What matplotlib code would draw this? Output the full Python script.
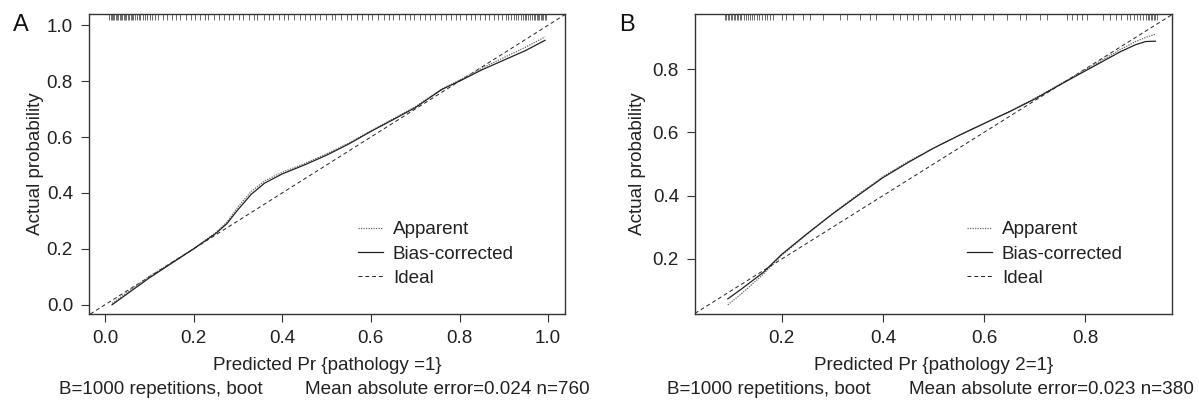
import matplotlib
matplotlib.use("Agg")
import matplotlib.pyplot as plt

plt.rcParams['font.family'] = ['Liberation Sans', 'DejaVu Sans']

# ---------------- Panel A data ----------------
a_x = [0.016, 0.10, 0.20, 0.25, 0.275, 0.30, 0.33, 0.36, 0.40, 0.45, 0.50,
       0.55, 0.60, 0.65, 0.70, 0.76, 0.80, 0.85, 0.90, 0.95, 0.993]
a_bias = [0.000, 0.096, 0.200, 0.255, 0.290, 0.340, 0.395, 0.435, 0.468, 0.500, 0.535,
          0.575, 0.620, 0.662, 0.705, 0.770, 0.800, 0.840, 0.875, 0.910, 0.946]
a_app = [0.005, 0.102, 0.200, 0.258, 0.295, 0.350, 0.405, 0.443, 0.474, 0.505, 0.540,
         0.578, 0.622, 0.665, 0.708, 0.772, 0.804, 0.846, 0.884, 0.922, 0.958]
a_rug = [0.010, 0.013, 0.016, 0.019, 0.021, 0.024, 0.027, 0.030, 0.033, 0.036,
         0.039, 0.042, 0.045, 0.048, 0.051, 0.054, 0.058, 0.061, 0.064, 0.068,
         0.072, 0.076, 0.080, 0.085, 0.090, 0.095, 0.101, 0.107, 0.113, 0.120,
         0.131, 0.140, 0.152, 0.161, 0.170, 0.182, 0.194, 0.203, 0.215, 0.226,
         0.233, 0.246, 0.258, 0.268, 0.281, 0.290, 0.302, 0.311, 0.325, 0.337,
         0.344, 0.358, 0.371, 0.380, 0.392, 0.405, 0.414, 0.427, 0.441, 0.452,
         0.463, 0.475, 0.486, 0.498, 0.512, 0.520, 0.533, 0.547, 0.556, 0.569,
         0.581, 0.594, 0.603, 0.617, 0.629, 0.640, 0.651, 0.663, 0.676, 0.688,
         0.697, 0.711, 0.722, 0.734, 0.745, 0.758, 0.769, 0.780, 0.792, 0.801,
         0.814, 0.826, 0.835, 0.847, 0.858, 0.866, 0.878, 0.887, 0.896, 0.904,
         0.910, 0.917, 0.922, 0.928, 0.933, 0.938, 0.943, 0.947, 0.951, 0.955,
         0.959, 0.963, 0.967, 0.970, 0.974, 0.977, 0.980, 0.983, 0.986, 0.989,
         0.992, 0.995]

# ---------------- Panel B data ----------------
b_x = [0.093, 0.12, 0.162, 0.20, 0.25, 0.30, 0.35, 0.40, 0.45, 0.50, 0.55,
       0.60, 0.65, 0.70, 0.75, 0.784, 0.83, 0.87, 0.90, 0.92, 0.939]
b_bias = [0.074, 0.105, 0.156, 0.215, 0.280, 0.342, 0.400, 0.457, 0.505, 0.550, 0.590,
          0.628, 0.665, 0.705, 0.750, 0.780, 0.820, 0.855, 0.877, 0.887, 0.888]
b_app = [0.055, 0.090, 0.150, 0.212, 0.278, 0.343, 0.403, 0.460, 0.508, 0.550, 0.590,
         0.628, 0.666, 0.707, 0.752, 0.783, 0.825, 0.862, 0.887, 0.900, 0.910]
b_rug = [0.087, 0.090, 0.093, 0.096, 0.099, 0.102, 0.105, 0.108, 0.111, 0.114,
         0.117, 0.120, 0.124, 0.128, 0.132, 0.136, 0.140, 0.145, 0.150, 0.155,
         0.160, 0.166, 0.171, 0.176, 0.183, 0.200, 0.209, 0.222, 0.242, 0.255,
         0.281, 0.315, 0.328, 0.354, 0.374, 0.387, 0.420, 0.433, 0.447, 0.460,
         0.470, 0.486, 0.496, 0.520, 0.533, 0.543, 0.552, 0.576, 0.599, 0.618,
         0.645, 0.671, 0.684, 0.711, 0.724, 0.764, 0.774, 0.784, 0.793, 0.803,
         0.836, 0.849, 0.862, 0.872, 0.882, 0.889, 0.896, 0.902, 0.909, 0.915,
         0.920, 0.924, 0.927, 0.930, 0.933, 0.936, 0.939, 0.942]

a_ticks = [0.0, 0.2, 0.4, 0.6, 0.8, 1.0]
b_ticks = [0.2, 0.4, 0.6, 0.8]
a_xlabel = "Predicted Pr {pathology =1}"
b_xlabel = "Predicted Pr {pathology 2=1}"
ylabel = "Actual probability"
foot_left = "B=1000 repetitions, boot"
a_foot_right = "Mean absolute error=0.024 n=760"
b_foot_right = "Mean absolute error=0.023 n=380"

W, H = 1199, 400
fig = plt.figure(figsize=(W / 100, H / 100), dpi=100)

FS = 13.6
LC = '#222222'
TC = '#222222'


def make_panel(left_px, right_px, xlim, ylim, xs, bias, app, rug, ticks, xlabel,
               letter, letter_x, ylab_x, leg_x, foot_l_x, foot_r_x, foot_r):
    top_px, bot_px = 14, 314
    ax = fig.add_axes([left_px / W, 1 - bot_px / H, (right_px - left_px) / W,
                       (bot_px - top_px) / H])
    ax.set_xlim(*xlim)
    ax.set_ylim(*ylim)
    ax.axline((0.5, 0.5), slope=1, color=LC, lw=0.7, ls=(0, (4, 3)), label='Ideal')
    ax.plot(xs, app, color='#666666', lw=0.9, ls=(0, (1, 1)), label='Apparent')
    ax.plot(xs, bias, color=LC, lw=0.9, ls='-', label='Bias-corrected')
    ax.vlines(rug, 0.98, 1.0, transform=ax.get_xaxis_transform(), color='#333333',
              lw=0.5)
    ax.set_xticks(ticks)
    ax.set_yticks(ticks)
    ax.set_xticklabels([f"{t:.1f}" for t in ticks])
    ax.set_yticklabels([f"{t:.1f}" for t in ticks])
    ax.tick_params(direction='out', length=5.5, width=0.8, color='#333333',
                   labelsize=FS, labelcolor=TC)
    ax.tick_params(axis='x', pad=6)
    ax.tick_params(axis='y', pad=6)
    for s in ax.spines.values():
        s.set_linewidth(1.0)
        s.set_color('#333333')
    ax.set_xlabel(xlabel, fontsize=FS, color=TC)
    ax.xaxis.label.set_va('center')
    ax.xaxis.set_label_coords(0.5, (bot_px - 365) / (bot_px - top_px))
    ax.set_ylabel(ylabel, fontsize=FS, color=TC)
    ax.yaxis.label.set_va('center')
    ax.yaxis.set_label_coords((ylab_x - left_px) / (right_px - left_px), 0.5)
    h, l = ax.get_legend_handles_labels()
    order = [l.index('Apparent'), l.index('Bias-corrected'), l.index('Ideal')]
    ax.legend([h[i] for i in order], [l[i] for i in order], loc='center left',
              bbox_to_anchor=((leg_x - left_px) / (right_px - left_px),
                              (bot_px - 254) / (bot_px - top_px)),
              frameon=False, fontsize=FS, borderpad=0, borderaxespad=0,
              handlelength=1.3, handletextpad=0.55, labelspacing=0.38,
              labelcolor=TC)
    fig.text(letter_x / W, 1 - 25 / H, letter, fontsize=17, ha='center',
             va='center', color='#111111')
    fig.text(foot_l_x / W, 1 - 389 / H, foot_left, fontsize=FS, ha='left',
             va='center', color=TC)
    fig.text(foot_r_x / W, 1 - 389 / H, foot_r, fontsize=FS, ha='right',
             va='center', color=TC)
    return ax


make_panel(89, 565, (-0.036, 1.038), (-0.033, 1.04), a_x, a_bias, a_app, a_rug,
           a_ticks, a_xlabel, 'A', 21, 35, 358, 59, 590, a_foot_right)
make_panel(695, 1172, (0.028, 0.972), (0.026, 0.974), b_x, b_bias, b_app, b_rug,
           b_ticks, b_xlabel, 'B', 627, 637, 967, 667, 1194, b_foot_right)

fig.savefig('out.png', dpi=100)
